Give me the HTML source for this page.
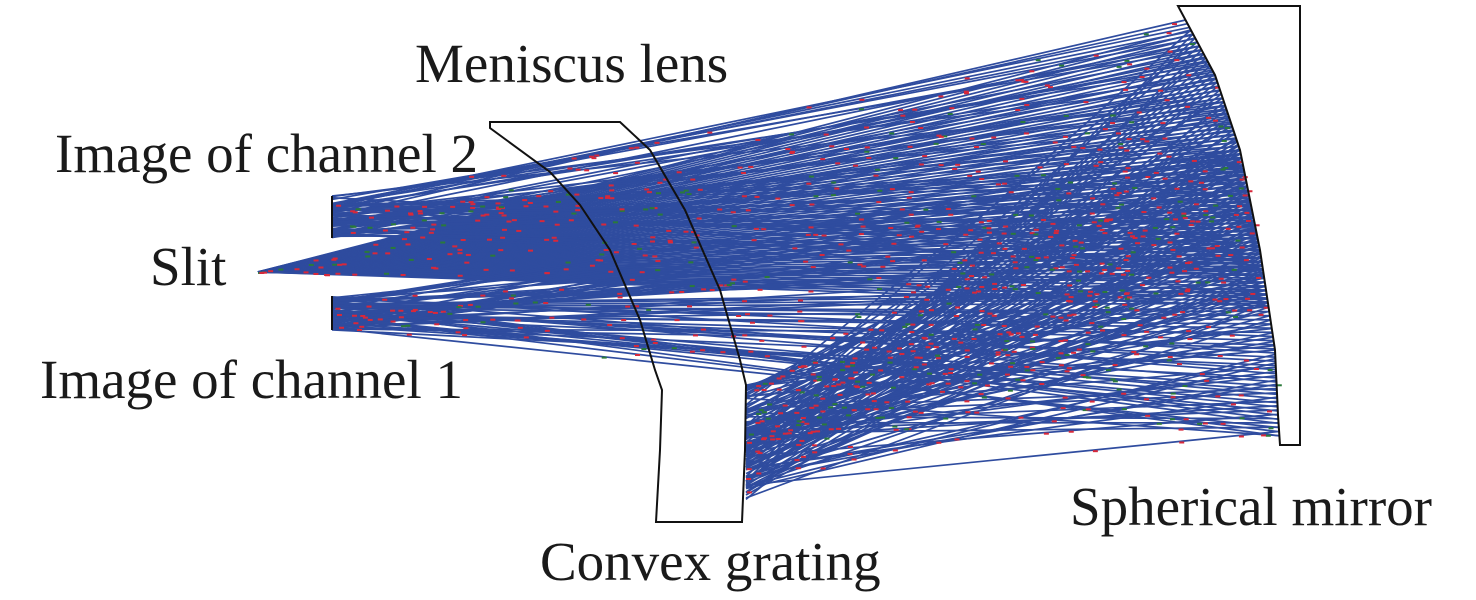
<!DOCTYPE html>
<html><head><meta charset="utf-8"><style>
html,body{margin:0;padding:0;background:#fff;}
svg{display:block}
text{font-family:"Liberation Serif",serif;font-size:55px;fill:#1a1a1a}
</style></head><body>
<svg id="s" width="1476" height="600" viewBox="0 0 1476 600" xmlns="http://www.w3.org/2000/svg">
<g id="rays" stroke-width="1.7" fill="none"></g>
<g id="dots"></g>
<path d="M490,122 L620,122 L650,150 L685,210 L720,290 L740,360 L746,385 L745,450 L742,522 L656,522 L660,450 L662,390 L655,370 L640,320 L610,250 L580,205 L550,172 L490,128 Z" fill="none" stroke="#111" stroke-width="2"/>
<path d="M1178,6 L1300,6 L1300,445 L1280,445 L1278,415 L1275,350 L1260,250 L1240,150 L1215,75 Z" fill="none" stroke="#111" stroke-width="2"/>
<line x1="332" y1="196" x2="332" y2="238" stroke="#111" stroke-width="2"/>
<line x1="332" y1="296" x2="332" y2="330" stroke="#111" stroke-width="2"/>
<text x="415" y="82">Meniscus lens</text>
<text x="55" y="172">Image of channel 2</text>
<text x="150" y="285">Slit</text>
<text x="40" y="398">Image of channel 1</text>
<text x="1070" y="525">Spherical mirror</text>
<text x="540" y="580">Convex grating</text>
</svg>
<script>
(function(){
var g=document.getElementById('rays'),d=document.getElementById('dots'),ns="http://www.w3.org/2000/svg";
var my=[[6,1178],[75,1215],[150,1240],[250,1260],[350,1275],[445,1280]];
function mx(y){for(var i=0;i<my.length-1;i++){if(y<=my[i+1][0]){var t=(y-my[i][0])/(my[i+1][0]-my[i][0]);return my[i][1]+t*(my[i+1][1]-my[i][1]);}}return 1280;}
var seed=7;function r(){seed=(seed*16807)%2147483647;return seed/2147483647;}
function L(x1,y1,x2,y2){var l=document.createElementNS(ns,'line');l.setAttribute('x1',x1);l.setAttribute('y1',y1);l.setAttribute('x2',x2);l.setAttribute('y2',y2);l.setAttribute('stroke','#2f4c9f');g.appendChild(l);
 for(var k=0;k<3;k++){var t=r();var e=document.createElementNS(ns,'rect');e.setAttribute('x',x1+(x2-x1)*t);e.setAttribute('y',y1+(y2-y1)*t);e.setAttribute('width',5);e.setAttribute('height',2);e.setAttribute('fill',r()<0.75?'#d8283a':'#2a7a3a');d.appendChild(e);}}
var N=70,i;
for(i=0;i<N;i++){var y=30+i*(280/N);L(258,272,mx(y),y);}
for(i=0;i<N;i++){var y=30+i*(280/N);L(mx(y),y,746,385+r()*115);}
for(i=0;i<N;i++){var y=140+i*(300/N);L(746,385+r()*115,mx(y),y);}
for(i=0;i<N;i++){var y=20+i*(260/N);L(mx(y),y,332,196+r()*42);}
for(i=0;i<N;i++){var y=150+i*(290/N);L(mx(y),y,332,296+r()*34);}
})();
</script>
</body></html>
